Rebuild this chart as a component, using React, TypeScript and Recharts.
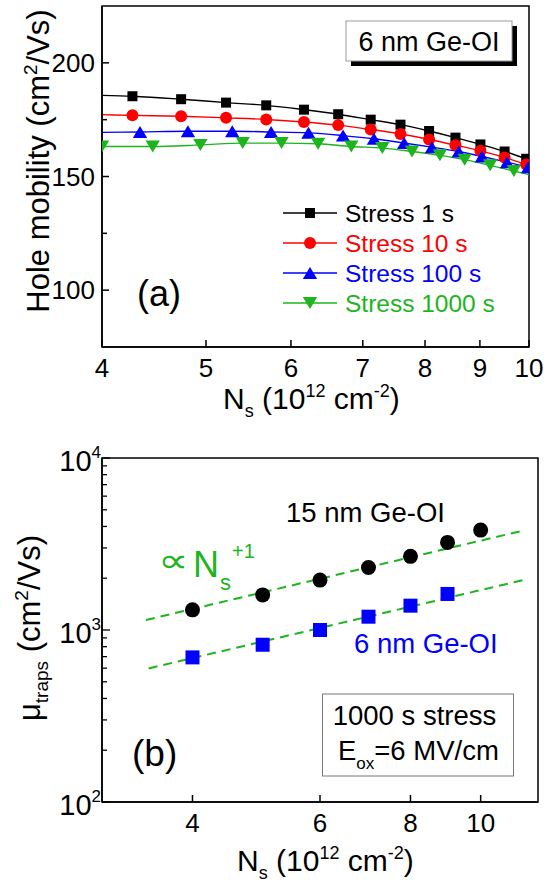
import { ComposedChart, Line, Scatter, XAxis, YAxis, ReferenceArea, Legend } from 'recharts';

const FONT = '"Liberation Sans", Arial, Helvetica, sans-serif';
const GREEN = '#1db41d';

// (a) 6 nm Ge-OI, hole mobility vs Ns after stress
const nsA1 = [4.27, 4.74, 5.22, 5.69, 6.17, 6.64, 7.12, 7.59, 8.07, 8.54, 9.01, 9.49, 9.94];
const mu1s = [185.3, 184.0, 182.5, 181.3, 179.4, 177.4, 175.0, 172.8, 170.0, 167.1, 164.1, 161.0, 157.8];
const mu10s = [176.9, 176.5, 175.8, 175.1, 174.0, 172.6, 170.7, 168.7, 166.3, 163.8, 161.3, 158.4, 155.3];
const nsA100 = [4.34, 4.81, 5.29, 5.75, 6.23, 6.71, 7.17, 7.65, 8.12, 8.6, 9.04, 9.54, 9.98];
const mu100s = [169.6, 169.9, 169.9, 169.6, 169.2, 168.0, 166.6, 164.7, 162.9, 161.0, 158.8, 156.3, 154.1];
const nsA1000 = [4.0, 4.46, 4.94, 5.41, 5.88, 6.36, 6.83, 7.3, 7.78, 8.26, 8.71, 9.2, 9.68];
const mu1000s = [163.2, 163.2, 163.9, 164.7, 164.7, 164.4, 163.2, 162.5, 161.0, 159.3, 157.4, 154.9, 152.4];
// fitted curves where they meet the frame (Ns = 4 and 10)
const fitEdges = [4, 10];
const fit1s = [185.7, 157.4];
const fit10s = [177.2, 155.0];
const fit100s = [169.4, 154.0];
const fit1000s = [163.2, 150.8];

const nsTicksA = [4, 5, 6, 7, 8, 9, 10];
const muTicksA = [100, 125, 150, 175, 200];
const muLabelsA = [100, 150, 200];

// (b) mu_traps vs Ns, 1000 s stress at Eox = 6 MV/cm
const nsB = [4, 5, 6, 7, 8, 9, 10];
const traps15 = [1310, 1600, 1950, 2310, 2680, 3230, 3810];
const traps6 = [693, 821, 1000, 1195, 1385, 1620];
const fitUpNs = [3.45, 11.46];
const fitUp = [1143, 3790];
const fitLowNs = [3.48, 11.5];
const fitLow = [598, 1960];

const nsTicksB = [4, 6, 8, 10];
const trapTicks = [100, 200, 300, 400, 500, 600, 700, 800, 900, 1000, 2000, 3000, 4000, 5000, 6000, 7000, 8000, 9000, 10000];
const trapMajor = [100, 1000, 10000];

const pts = (ns: number[], vs: number[]) => ns.map((n, i) => ({ n, v: vs[i] }));

const seriesA = [
  { name: 'Stress 1 s', color: '#000000', shape: 'square', ns: nsA1, mu: mu1s, fit: fit1s },
  { name: 'Stress 10 s', color: '#ff0000', shape: 'circle', ns: nsA1, mu: mu10s, fit: fit10s },
  { name: 'Stress 100 s', color: '#0000ff', shape: 'up', ns: nsA100, mu: mu100s, fit: fit100s },
  { name: 'Stress 1000 s', color: GREEN, shape: 'down', ns: nsA1000, mu: mu1000s, fit: fit1000s },
];

const Marker = ({ cx, cy, shape, color, size }: any) => {
  if (cx == null || cy == null) return null;
  const h = size / 2;
  if (shape === 'square') return <rect x={cx - h} y={cy - h} width={size} height={size} fill={color} />;
  if (shape === 'circle') return <circle cx={cx} cy={cy} r={h} fill={color} />;
  const w = h * 1.2;
  if (shape === 'up') return <polygon points={`${cx - w},${cy + h} ${cx + w},${cy + h} ${cx},${cy - h}`} fill={color} />;
  return <polygon points={`${cx - w},${cy - h} ${cx + w},${cy - h} ${cx},${cy + h}`} fill={color} />;
};

const XTick = ({ x, y, payload }: any) => (
  <g>
    <line x1={x} x2={x} y1={y} y2={y - 7} stroke="#000" strokeWidth={1.5} />
    <text x={x} y={y + 30} textAnchor="middle" fontSize={26} fontFamily={FONT} fill="#000">
      {payload.value}
    </text>
  </g>
);

const YTickA = ({ x, y, payload }: any) => {
  const major = muLabelsA.includes(payload.value);
  return (
    <g>
      <line x1={x} x2={x + (major ? 7 : 5)} y1={y} y2={y} stroke="#000" strokeWidth={1.5} />
      {major && (
        <text x={x - 7} y={y + 9} textAnchor="end" fontSize={26} fontFamily={FONT} fill="#000">
          {payload.value}
        </text>
      )}
    </g>
  );
};

const YTickB = ({ x, y, payload }: any) => {
  const major = trapMajor.includes(payload.value);
  return (
    <g>
      <line x1={x} x2={x + (major ? 8 : 5)} y1={y} y2={y} stroke="#000" strokeWidth={1.3} />
      {major && (
        <text x={x - 1} y={y + 13} textAnchor="end" fontSize={29} fontFamily={FONT} fill="#000">
          10
          <tspan dy={-13} fontSize={17}>
            {Math.round(Math.log10(payload.value))}
          </tspan>
        </text>
      )}
    </g>
  );
};

const LegendA = () => (
  <svg width={250} height={135}>
    {seriesA.map((s, i) => {
      const cy = 18 + i * 30;
      return (
        <g key={s.name}>
          <line x1={3} x2={57} y1={cy} y2={cy} stroke={s.color} strokeWidth={1.5} />
          <Marker cx={30} cy={cy} shape={s.shape} color={s.color} size={s.shape === 'square' ? 10 : 12} />
          <text x={65} y={cy + 8.8} fontSize={24.5} fontFamily={FONT} fill={s.color}>
            {s.name}
          </text>
        </g>
      );
    })}
  </svg>
);

const axisLine = { stroke: '#000', strokeWidth: 1.5 };

const PanelA = () => (
  <ComposedChart width={544} height={420} margin={{ top: 6, right: 15, bottom: 0, left: 0 }}>
    <XAxis
      dataKey="n"
      type="number"
      scale="log"
      domain={[4, 10]}
      ticks={nsTicksA}
      interval={0}
      allowDataOverflow
      height={73}
      tickSize={0}
      tickMargin={0}
      tickLine={false}
      axisLine={axisLine}
      tick={(p: any) => <XTick {...p} />}
    />
    <YAxis
      dataKey="v"
      type="number"
      domain={[75, 225]}
      ticks={muTicksA}
      interval={0}
      allowDataOverflow
      width={102}
      tickSize={0}
      tickMargin={0}
      tickLine={false}
      axisLine={axisLine}
      tick={(p: any) => <YTickA {...p} />}
    />
    <ReferenceArea x1={4} x2={10} y1={75} y2={225} fill="none" stroke="#000" strokeWidth={1.5} ifOverflow="visible" />
    {seriesA.map((s) => (
      <Line
        key={`fit-${s.name}`}
        data={[{ n: fitEdges[0], v: s.fit[0] }, ...pts(s.ns, s.mu), { n: fitEdges[1], v: s.fit[1] }]}
        dataKey="v"
        type="monotone"
        stroke={s.color}
        strokeWidth={1.4}
        dot={false}
        activeDot={false}
        isAnimationActive={false}
        legendType="none"
      />
    ))}
    {seriesA.map((s) => (
      <Scatter
        key={`pts-${s.name}`}
        name={s.name}
        data={pts(s.ns, s.mu)}
        dataKey="v"
        isAnimationActive={false}
        shape={(p: any) => (
          <Marker cx={p.cx} cy={p.cy} shape={s.shape} color={s.color} size={s.shape === 'square' ? 10 : 12} />
        )}
      />
    ))}
    <Legend
      layout="vertical"
      align="center"
      verticalAlign="middle"
      content={() => <LegendA />}
      wrapperStyle={{ left: 280, top: 195, width: 250, height: 135 }}
    />
  </ComposedChart>
);

const PanelB = () => (
  <ComposedChart width={544} height={465} margin={{ top: 38, right: 6, bottom: 0, left: 0 }}>
    <XAxis
      dataKey="n"
      type="number"
      scale="log"
      domain={[3, 12]}
      ticks={nsTicksB}
      interval={0}
      allowDataOverflow
      height={83}
      tickSize={0}
      tickMargin={0}
      tickLine={false}
      axisLine={axisLine}
      tick={(p: any) => <XTick {...p} />}
    />
    <YAxis
      dataKey="v"
      type="number"
      scale="log"
      domain={[100, 10000]}
      ticks={trapTicks}
      interval={0}
      allowDataOverflow
      width={102}
      tickSize={0}
      tickMargin={0}
      tickLine={false}
      axisLine={axisLine}
      tick={(p: any) => <YTickB {...p} />}
    />
    <ReferenceArea x1={3} x2={12} y1={100} y2={10000} fill="none" stroke="#000" strokeWidth={1.5} ifOverflow="visible" />
    <Line data={pts(fitUpNs, fitUp)} dataKey="v" type="linear" stroke={GREEN} strokeWidth={2} strokeDasharray="9 6" dot={false} activeDot={false} isAnimationActive={false} />
    <Line data={pts(fitLowNs, fitLow)} dataKey="v" type="linear" stroke={GREEN} strokeWidth={2} strokeDasharray="9 6" dot={false} activeDot={false} isAnimationActive={false} />
    <Scatter
      name="15 nm Ge-OI"
      data={pts(nsB, traps15)}
      dataKey="v"
      isAnimationActive={false}
      shape={(p: any) => <Marker cx={p.cx} cy={p.cy} shape="circle" color="#000" size={15} />}
    />
    <Scatter
      name="6 nm Ge-OI"
      data={pts(nsB.slice(0, traps6.length), traps6)}
      dataKey="v"
      isAnimationActive={false}
      shape={(p: any) => <Marker cx={p.cx} cy={p.cy} shape="square" color="#0000ff" size={14} />}
    />
  </ComposedChart>
);

const Overlay = () => (
  <svg width={544} height={885} style={{ position: 'absolute', left: 0, top: 0, pointerEvents: 'none' }} fontFamily={FONT}>
    {/* panel (a) */}
    <text transform="translate(48.5,161) rotate(-90)" textAnchor="middle" fontSize={31} fill="#000">
      Hole mobility (cm<tspan dy={-12} fontSize={19}>2</tspan>
      <tspan dy={12}>/Vs)</tspan>
    </text>
    <text x={223} y={409} fontSize={30} fill="#000">
      N<tspan dy={8} fontSize={18}>s</tspan>
      <tspan dy={-8}> (10</tspan>
      <tspan dy={-12} fontSize={18}>12</tspan>
      <tspan dy={12}> cm</tspan>
      <tspan dy={-12} fontSize={18}>-2</tspan>
      <tspan dy={12}>)</tspan>
    </text>
    <rect x={351} y={26} width={166} height={40} fill="#000" />
    <rect x={346} y={21} width={166} height={40} fill="#fff" stroke="#999" strokeWidth={1} />
    <text x={429} y={51} textAnchor="middle" fontSize={27} fill="#000">6 nm Ge-OI</text>
    <text x={137} y={306} fontSize={36} fill="#000">(a)</text>

    {/* panel (b) */}
    <text transform="translate(40,628) rotate(-90)" textAnchor="middle" fontSize={31} fill="#000">
      μ<tspan dy={8} fontSize={19}>traps</tspan>
      <tspan dy={-8}> (cm</tspan>
      <tspan dy={-12} fontSize={19}>2</tspan>
      <tspan dy={12}>/Vs)</tspan>
    </text>
    <text x={237} y={871} fontSize={30} fill="#000">
      N<tspan dy={8} fontSize={18}>s</tspan>
      <tspan dy={-8}> (10</tspan>
      <tspan dy={-12} fontSize={18}>12</tspan>
      <tspan dy={12}> cm</tspan>
      <tspan dy={-12} fontSize={18}>-2</tspan>
      <tspan dy={12}>)</tspan>
    </text>
    <text x={286} y={522} fontSize={27.5} fill="#000">15 nm Ge-OI</text>
    <text x={354} y={653} fontSize={27.5} fill="#0000ff">6 nm Ge-OI</text>
    <text transform="translate(158,572) scale(1.25,1)" fontSize={34} fill={GREEN} fontFamily='"DejaVu Sans", sans-serif'>∝</text>
    <text x={193} y={577} fontSize={36} fill={GREEN}>N</text>
    <text x={220} y={590} fontSize={22} fill={GREEN}>s</text>
    <text x={232} y={558} fontSize={20} fill={GREEN}>+1</text>
    <rect x={322.5} y={694} width={191} height={82} fill="none" stroke="#777" strokeWidth={1} />
    <text x={414.5} y={725} textAnchor="middle" fontSize={27.5} fill="#000">1000 s stress</text>
    <text x={338} y={760} fontSize={27.5} fill="#000">
      E<tspan dy={9} fontSize={17}>ox</tspan>
      <tspan dy={-9}>=6 MV/cm</tspan>
    </text>
    <text x={132} y={766} fontSize={37} fill="#000">(b)</text>
  </svg>
);

export default function App() {
  return (
    <div style={{ position: 'absolute', left: 0, top: 0, width: 544, height: 885, background: '#fff', fontFamily: FONT }}>
      <div style={{ position: 'absolute', left: 0, top: 0 }}>
        <PanelA />
      </div>
      <div style={{ position: 'absolute', left: 0, top: 420 }}>
        <PanelB />
      </div>
      <Overlay />
    </div>
  );
}
